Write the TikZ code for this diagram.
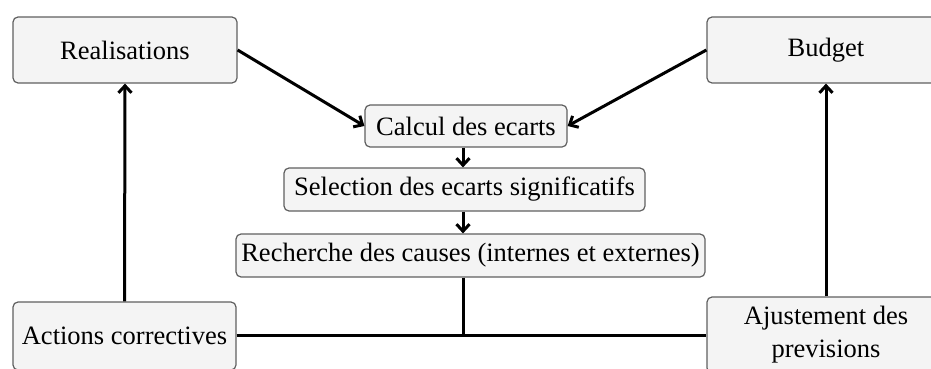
\documentclass[tikz,border=0pt]{standalone}
\usepackage{fontspec}
\setmainfont{Liberation Serif}
\usepackage{tikz}
\usetikzlibrary{shapes, arrows.meta, calc, positioning}
\definecolor{boxfill}{HTML}{F4F4F4}
\definecolor{boxline}{HTML}{606060}
\newcommand{\boxfont}{\fontsize{26.5}{33}\selectfont}

\begin{document}
\begin{tikzpicture}[x=1pt,y=-1pt,line width=3pt,>={Straight Barb[length=7pt,width=13pt]}]
            \useasboundingbox (0,0) rectangle (931,369);
            \clip (0,0) rectangle (931,369);
            \begin{scope}[shape=rectangle,rounded corners=5pt]
            \tikzstyle{every node}=[draw=boxline,fill=boxfill,line width=1.2pt,font=\boxfont,align=center,inner sep=1pt]
            
            \node[minimum width=224pt,minimum height=66pt] (real) at (125,50) {Realisations};
            \node[minimum width=238pt,minimum height=66pt] (budg) at (826,50) {Budget};
            
            \node[minimum width=202pt,minimum height=42pt] (calc) at (466,126) {Calcul des ecarts};
            \node[minimum width=361pt,minimum height=43pt] (sele) at (464.5,189.5) {Selection des ecarts significatifs};
            \node[minimum width=469pt,minimum height=43pt] (rech) at (470.5,255.5) {Recherche des causes (internes et externes)};
            
            \node[minimum width=223pt,minimum height=68pt] (acti) at (124.5,336) {Actions correctives};
            \node[minimum width=238pt,minimum height=76pt] (ajus) at (826,335) {Ajustement des\\previsions};
            
            \end{scope}
            
            \draw [->] (real.east) -- (calc.west);
            \draw [->] (budg.west) -- (calc.east);
            \draw [->] (calc.south -| 463,0) -- (sele.north -| 463,0);
            \draw [->] (sele.south -| 463,0) -- (rech.north -| 463,0);
            
            \draw [-] (rech.south -| 463,0) -- (463,335);
            \draw [-] (acti.east |- 0,335) -- (ajus.west |- 0,335);
            
            \draw [->] (acti.north) -- (real.south);
            \draw [->] (ajus.north) -- (budg.south);
\end{tikzpicture}
\end{document}
